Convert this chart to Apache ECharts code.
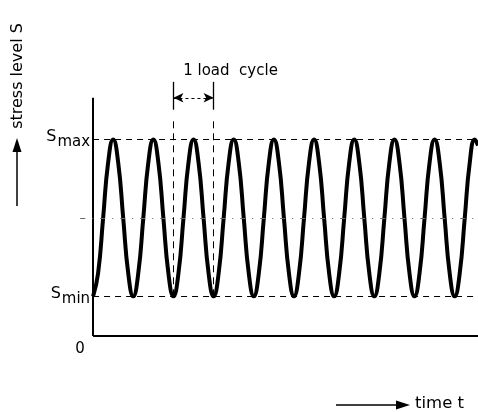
<!DOCTYPE html>
<html>
<head>
<meta charset="utf-8">
<script src="https://cdn.jsdelivr.net/npm/echarts@6/dist/echarts.min.js"></script>
<style>
html,body{margin:0;padding:0;background:#fff;}
#c{width:478px;height:412px;}
</style>
</head>
<body>
<div id="c"></div>
<script>
// ---- data (time in load cycles, stress in arbitrary units) ----
var timeT = [
  0,0.125,0.25,0.375,0.5,0.625,0.75,0.875,
  1,1.125,1.25,1.375,1.5,1.625,1.75,1.875,
  2,2.125,2.25,2.375,2.5,2.625,2.75,2.875,
  3,3.125,3.25,3.375,3.5,3.625,3.75,3.875,
  4,4.125,4.25,4.375,4.5,4.625,4.75,4.875,
  5,5.125,5.25,5.375,5.5,5.625,5.75,5.875,
  6,6.125,6.25,6.375,6.5,6.625,6.75,6.875,
  7,7.125,7.25,7.375,7.5,7.625,7.75,7.875,
  8,8.125,8.25,8.375,8.5,8.625,8.75,8.875,
  9,9.125,9.25,9.375,9.5,9.58
];
var stressS = [
  1,1.58,2.97,4.37,4.95,4.37,2.97,1.58,
  1,1.58,2.97,4.37,4.95,4.37,2.97,1.58,
  1,1.58,2.97,4.37,4.95,4.37,2.97,1.58,
  1,1.58,2.97,4.37,4.95,4.37,2.97,1.58,
  1,1.58,2.97,4.37,4.95,4.37,2.97,1.58,
  1,1.58,2.97,4.37,4.95,4.37,2.97,1.58,
  1,1.58,2.97,4.37,4.95,4.37,2.97,1.58,
  1,1.58,2.97,4.37,4.95,4.37,2.97,1.58,
  1,1.58,2.97,4.37,4.95,4.37,2.97,1.58,
  1,1.58,2.97,4.37,4.95,4.8
];
var sMax = 4.95;
var sMin = 1.0;
var sMean = 2.97;
var tEnd = 9.58;
var yAxisTop = 6.0;
var cycleStart = 2;
var cycleEnd = 3;
var originLabel = '0';

var FONT = 'DejaVu Sans';
var chart = echarts.init(document.getElementById('c'), null, {renderer:'canvas'});
var pts = timeT.map(function(t,i){return [t, stressS[i]];});

function lbl(sub){
  return {show:true,position:'start',distance:3,formatter:'{s|S}{sub|'+sub+'}',
    rich:{s:{fontFamily:FONT,fontSize:16,color:'#000',verticalAlign:'bottom',padding:[0,0,5,0]},
          sub:{fontFamily:FONT,fontSize:15,color:'#000',padding:[0,0,0,1],verticalAlign:'bottom'}}};
}

var option = {
  backgroundColor:'#fff',
  animation:false,
  grid:{left:77,right:0,top:66,bottom:76},
  xAxis:{type:'value',min:-0.4,max:tEnd,
    axisLine:{show:false},axisTick:{show:false},axisLabel:{show:false},splitLine:{show:false}},
  yAxis:{type:'value',min:0,max:6.8,
    axisLine:{show:false},axisTick:{show:false},axisLabel:{show:false},splitLine:{show:false}},
  series:[{
    type:'line',data:pts,smooth:0.5,symbol:'none',clip:false,z:3,
    lineStyle:{color:'#000',width:4},
    markLine:{
      silent:true,symbol:['none','none'],animation:false,
      label:{show:false},
      data:[
        // axes
        [{coord:[0,0],lineStyle:{type:'solid',width:2,color:'#000'}},{coord:[0,yAxisTop]}],
        [{coord:[0,0],lineStyle:{type:'solid',width:2,color:'#000'}},{coord:[tEnd,0]}],
        // reference levels
        [{coord:[0,sMax],lineStyle:{type:[6,5],width:1,color:'#000'},label:lbl('max')},{coord:[tEnd,sMax]}],
        [{coord:[0,sMin],lineStyle:{type:[6,5],width:1,color:'#000'},label:lbl('min')},{coord:[tEnd,sMin]}],
        [{coord:[-0.32,sMean],lineStyle:{type:[5,7,1,7],width:1,color:'#666'}},{coord:[tEnd,sMean]}],
        // one load cycle guides
        [{coord:[cycleStart,sMin],lineStyle:{type:[7,5],width:1,color:'#000'}},{coord:[cycleStart,5.45]}],
        [{coord:[cycleEnd,sMin],lineStyle:{type:[7,5],width:1,color:'#000'}},{coord:[cycleEnd,5.45]}],
        [{coord:[cycleStart,5.7],lineStyle:{type:'solid',width:1.3,color:'#000'}},{coord:[cycleStart,6.4]}],
        [{coord:[cycleEnd,5.7],lineStyle:{type:'solid',width:1.3,color:'#000'}},{coord:[cycleEnd,6.4]}],
        [{coord:[cycleStart,6.0],symbol:'arrow',symbolSize:[7,10],lineStyle:{type:[3,3],width:1,color:'#000'}},
         {coord:[cycleEnd,6.0],symbol:'arrow',symbolSize:[7,10]}]
      ]
    },
    markPoint:{
      silent:true,symbol:'rect',symbolSize:1,itemStyle:{color:'rgba(0,0,0,0)'},
      data:[
        {coord:[(cycleStart+cycleEnd)/2,6.68],
         label:{show:true,formatter:'1 load  cycle',color:'#000',fontFamily:FONT,fontSize:15,offset:[37,0]}},
        {coord:[0,0],
         label:{show:true,formatter:originLabel,color:'#000',fontFamily:FONT,fontSize:15,offset:[-13,13]}}
      ]
    }
  }],
  graphic:[
    // y axis title with arrow
    {type:'line',shape:{x1:17,y1:206,x2:17,y2:150},style:{stroke:'#000',lineWidth:1.5}},
    {type:'polygon',shape:{points:[[17,138],[12.5,152],[21.5,152]]},style:{fill:'#000'}},
    {type:'text',x:18,y:76,rotation:Math.PI/2,
      style:{text:'stress level S',fontFamily:FONT,fontSize:16,fill:'#000',align:'center',verticalAlign:'middle'}},
    // x axis title with arrow
    {type:'line',shape:{x1:336,y1:405,x2:398,y2:405},style:{stroke:'#000',lineWidth:1.5}},
    {type:'polygon',shape:{points:[[410,405],[396,400.5],[396,409.5]]},style:{fill:'#000'}},
    {type:'text',x:415,y:412,style:{text:'time t',fontFamily:FONT,fontSize:16.5,fill:'#000',align:'left',verticalAlign:'bottom'}}
  ]
};
chart.setOption(option);
</script>
</body>
</html>
